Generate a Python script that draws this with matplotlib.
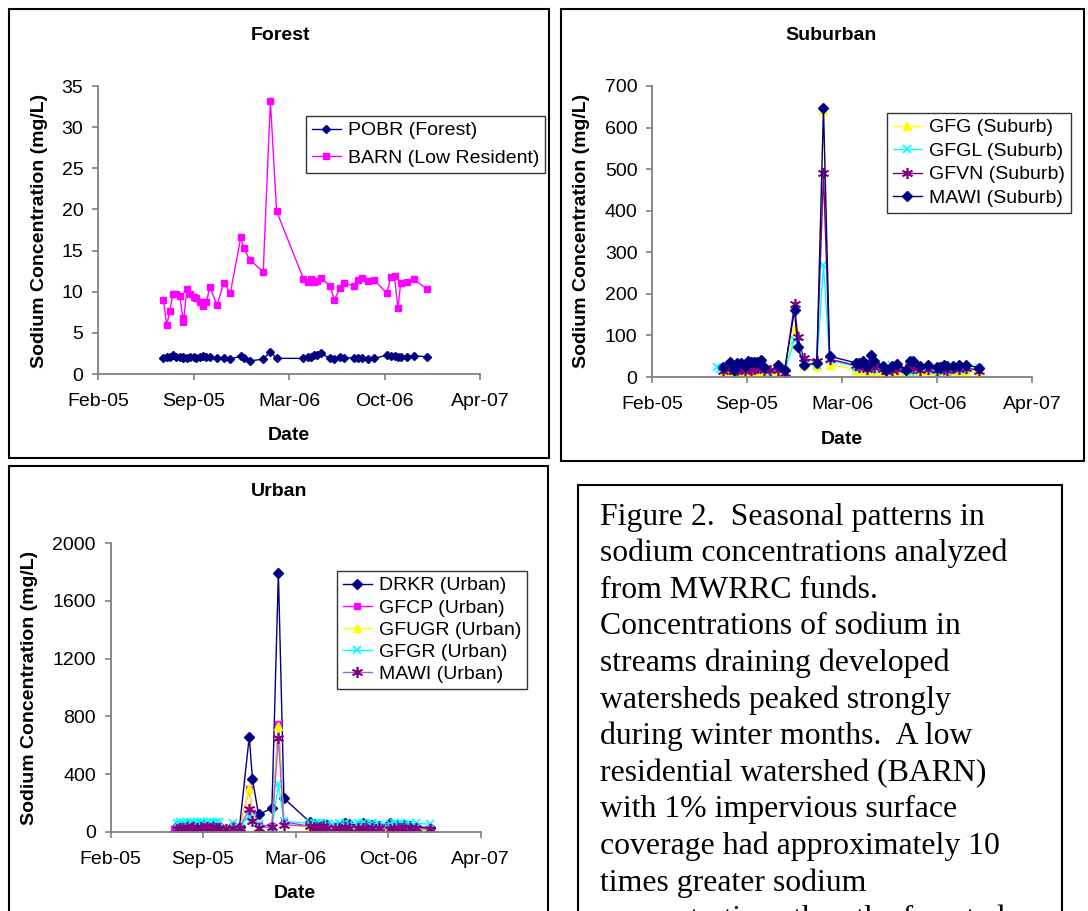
import matplotlib
matplotlib.use("Agg")
import matplotlib.pyplot as plt
import numpy as np
import pandas as pd
from matplotlib.patches import Rectangle

plt.rcParams['font.family'] = ['Liberation Sans', 'DejaVu Sans']

# ---------------- data (dates as Excel serial day numbers) ----------------
forest_dates = [38537, 38544, 38550, 38557, 38564, 38571, 38578, 38579, 38586, 38593,
                38600, 38606, 38614, 38620, 38627, 38634, 38649, 38664, 38677, 38699,
                38705, 38718, 38746, 38761, 38774, 38830, 38839, 38846, 38853, 38859,
                38867, 38886, 38895, 38907, 38915, 38936, 38945, 38952, 38966, 38979,
                39005, 39013, 39021, 39028, 39034, 39048, 39061, 39090]
pobr = [2.0, 2.1, 2.1, 2.3, 2.1, 2.1, 2.0, 2.1, 2.0, 2.1,
        2.1, 1.9, 2.1, 2.2, 2.1, 2.1, 1.9, 2.0, 1.8, 2.2,
        1.9, 1.6, 1.8, 2.7, 1.9, 1.9, 2.1, 2.1, 2.3, 2.3,
        2.5, 1.9, 1.8, 2.1, 1.9, 2.0, 2.0, 2.0, 1.8, 1.9,
        2.3, 2.2, 2.2, 2.1, 2.1, 2.1, 2.2, 2.1]
barn = [9.0, 5.9, 7.6, 9.7, 9.7, 9.5, 6.8, 6.3, 10.3, 9.7,
        9.3, 9.2, 8.7, 8.3, 8.7, 10.6, 8.4, 11.1, 9.8, 16.6,
        15.3, 13.9, 12.4, 33.2, 19.8, 11.6, 11.2, 11.5, 11.2, 11.3,
        11.7, 10.7, 9.0, 10.5, 11.0, 10.7, 11.4, 11.7, 11.3, 11.4,
        9.8, 11.8, 11.9, 8.0, 11.0, 11.2, 11.5, 10.3]

nan = np.nan
sub_dates = [38537, 38544, 38550, 38565, 38573, 38578, 38587, 38595, 38602, 38608,
             38615, 38622, 38629, 38635, 38649, 38665, 38679, 38700, 38707, 38719,
             38747, 38761, 38774, 38829, 38836, 38844, 38853, 38860, 38868, 38886,
             38893, 38906, 38915, 38935, 38943, 38950, 38965, 38980, 39000, 39007,
             39015, 39022, 39033, 39047, 39061, 39089]
gfg = [nan, nan, 12, 15, 10, 12, 14, 10, 15, 12,
       15, 12, 15, 14, 12, 15, 8, 117, 80, 28,
       26, 642, 30, 18, 16, 18, 15, 18, 15, 15,
       10, 14, 15, 12, 15, 16, 15, 14, 12, 15,
       12, 10, 15, 15, 15, 10]
gfgl = [25, 20, 22, 28, 20, 25, 22, 18, 25, 20,
        22, 25, 28, 20, 7, 22, 12, 89, 82, 32,
        30, 269, 41, 25, 22, 20, 22, 18, 20, 25,
        15, 28, 25, 15, 12, 15, 20, 18, 7, 18,
        15, 12, 20, 18, 20, 22]
gfvn = [nan, nan, 15, 20, 15, 18, 20, 15, 22, 18,
        20, 22, 25, 18, 16, 18, 10, 175, 96, 45,
        38, 490, 43, 28, 25, 28, 20, 30, 25, 20,
        14, 18, 20, 20, 25, 22, 18, 20, 18, 22,
        20, 18, 22, 20, 22, 15]
mawi_sub = [nan, nan, 25, 35, 18, 33, 33, 27, 39, 37,
            35, 37, 42, 23, nan, 29, 17, 160, 71, 29,
            33, 648, 50, 34, 33, 39, 27, 52, 39, 27,
            18, 27, 31, 18, 39, 39, 27, 28, 25, 25,
            29, 27, 27, 30, 30, 22]

urb_dates = [38537, 38544, 38550, 38557, 38565, 38573, 38578, 38587, 38595, 38602,
             38608, 38615, 38622, 38629, 38635, 38649, 38665, 38679, 38700, 38707,
             38720, 38749, 38763, 38775, 38831, 38839, 38846, 38853, 38860, 38868,
             38886, 38895, 38907, 38915, 38936, 38945, 38952, 38966, 38980, 39005,
             39013, 39021, 39028, 39034, 39048, 39061, 39090]
drkr = [nan, 40, 45, 40, 50, 45, 40, 45, 50, 45,
        40, 50, 45, 55, 40, 2, 40, 35, 660, 365,
        122, 164, 1790, 233, 69, 55, 50, 45, 55, 50,
        30, 35, 60, 55, 40, 65, 50, 45, 40, 60,
        50, 45, 40, 45, 40, 35, 30]
gfcp = [21, 25, 30, 25, 35, 30, 35, 30, 35, 30,
        35, 30, 35, 30, 25, 15, 40, 20, 300, 130,
        50, 40, 750, 70, 40, 35, 30, 35, 40, 35,
        25, 30, 40, 30, 25, 30, 25, 30, 25, 10,
        30, 25, 30, 25, 30, 25, 20]
gfugr = [nan, 15, 10, 15, 12, 15, 10, 15, 12, 15,
         10, 15, 12, 15, 10, 20, 25, 10, 305, 106,
         40, 30, 734, 60, 25, 20, 22, 18, 20, 25,
         15, 20, 22, 18, 15, 20, 15, 18, 12, 10,
         15, 12, 15, 12, 15, 10, 5]
gfgr = [nan, 65, 70, 65, 70, 68, 65, 70, 68, 65,
        70, 68, 65, 70, 70, 5, 65, 30, 110, 100,
        55, 25, 330, 75, 60, 65, 55, 60, 62, 58,
        55, 60, 62, 58, 60, 65, 55, 60, 58, 55,
        60, 58, 60, 55, 58, 60, 55]
mawi_urb = [nan, 20, 25, 30, 35, 30, 35, 30, 35, 30,
            35, 30, 35, 30, 25, 20, 30, 25, 160, 76,
            30, 35, 649, 50, 40, 35, 30, 35, 40, 30,
            25, 30, 35, 30, 25, 30, 28, 30, 25, 20,
            30, 25, 30, 25, 28, 25, 20]

tick_serials = [38400, 38600, 38800, 39000, 39200]

caption_lines = [
    "Figure 2.  Seasonal patterns in",
    "sodium concentrations analyzed",
    "from MWRRC funds.",
    "Concentrations of sodium in",
    "streams draining developed",
    "watersheds peaked strongly",
    "during winter months.  A low",
    "residential watershed (BARN)",
    "with 1% impervious surface",
    "coverage had approximately 10",
    "times greater sodium",
    "concentrations than the forested",
]

# ---------------- helpers ----------------
def to_dt(serials):
    return pd.to_datetime(np.asarray(serials, dtype=float), unit='D', origin='1899-12-30')

W, H = 1088, 911
fig = plt.figure(figsize=(W / 100, H / 100), dpi=100)
fig.patch.set_facecolor('white')

def px_axes(l, t, r, b):
    return fig.add_axes([l / W, 1 - b / H, (r - l) / W, (b - t) / H])

def fx(x):
    return x / W

def fy(y):
    return 1 - y / H

def panel_box(l, t, r, b):
    fig.patches.append(Rectangle((fx(l), fy(b)), (r - l) / W, (b - t) / H,
                                 transform=fig.transFigure, fill=False,
                                 edgecolor='black', linewidth=1.5))

def style_axes(ax, yticks):
    for s in ['top', 'right']:
        ax.spines[s].set_visible(False)
    for s in ['left', 'bottom']:
        ax.spines[s].set_color('#808080')
        ax.spines[s].set_linewidth(1.3)
    xt = to_dt(tick_serials)
    ax.set_xlim(xt[0], xt[-1])
    ax.set_xticks(xt)
    ax.set_xticklabels([d.strftime('%b-%y') for d in xt])
    ax.set_yticks(yticks)
    ax.set_ylim(yticks[0], yticks[-1])
    ax.tick_params(axis='both', direction='out', length=4.5, width=1.2,
                   color='#808080', labelsize=14, labelcolor='black')
    ax.tick_params(axis='x', pad=9)
    ax.tick_params(axis='y', pad=6)
    ax.patch.set_alpha(0)

def legend(ax, l, t, spacing):
    lg = ax.legend(loc='upper left', bbox_to_anchor=(fx(l), fy(t)),
                   bbox_transform=fig.transFigure, fontsize=14, frameon=True,
                   fancybox=False, edgecolor='black', borderaxespad=0,
                   handlelength=1.5, handletextpad=0.35, labelspacing=spacing,
                   borderpad=0.3)
    lg.get_frame().set_linewidth(1.0)
    return lg

NAVY = '#000080'
MAG = '#FF00FF'
YEL = '#FFFF00'
CYA = '#00FFFF'
PUR = '#800080'
STAR = (6, 2, 0)

# ---------------- Forest ----------------
panel_box(9, 9, 549, 458)
ax1 = px_axes(98, 86, 480, 374)
fd = to_dt(forest_dates)
ax1.plot(fd, pobr, color=NAVY, lw=1, marker='D', ms=4.5, label='POBR (Forest)')
ax1.plot(fd, barn, color=MAG, lw=1, marker='s', ms=5, label='BARN (Low Resident)')
style_axes(ax1, list(range(0, 36, 5)))
legend(ax1, 306, 116, 0.52)
fig.text(fx(280), fy(35), 'Forest', ha='center', va='center', fontsize=14, fontweight='bold')
fig.text(fx(289), fy(436), 'Date', ha='center', va='center', fontsize=14, fontweight='bold')
fig.text(fx(40), fy(231), 'Sodium Concentration (mg/L)', ha='center', va='center',
         rotation=90, fontsize=14, fontweight='bold')

# ---------------- Suburban ----------------
panel_box(561, 9, 1084, 461)
ax2 = px_axes(652, 86, 1032, 377)
sd = to_dt(sub_dates)
ax2.plot(sd, gfg, color=YEL, lw=1, marker='^', ms=6, label='GFG (Suburb)')
ax2.plot(sd, gfgl, color=CYA, lw=1, marker='x', ms=6, mew=1.2, label='GFGL (Suburb)')
ax2.plot(sd, gfvn, color=PUR, lw=1, marker=STAR, ms=8, mew=1.2, label='GFVN (Suburb)')
ax2.plot(sd, mawi_sub, color=NAVY, lw=1, marker='D', ms=5, label='MAWI (Suburb)')
style_axes(ax2, list(range(0, 701, 100)))
legend(ax2, 887, 113, 0.3)
fig.text(fx(831), fy(35), 'Suburban', ha='center', va='center', fontsize=14, fontweight='bold')
fig.text(fx(842), fy(439), 'Date', ha='center', va='center', fontsize=14, fontweight='bold')
fig.text(fx(582), fy(231), 'Sodium Concentration (mg/L)', ha='center', va='center',
         rotation=90, fontsize=14, fontweight='bold')

# ---------------- Urban ----------------
panel_box(9, 466, 548, 915)
ax3 = px_axes(110.5, 543, 480.5, 832)
ud = to_dt(urb_dates)
ax3.plot(ud, drkr, color=NAVY, lw=1, marker='D', ms=5, label='DRKR (Urban)')
ax3.plot(ud, gfcp, color=MAG, lw=1, marker='s', ms=5, label='GFCP (Urban)')
ax3.plot(ud, gfugr, color=YEL, lw=1, marker='^', ms=6, label='GFUGR (Urban)')
ax3.plot(ud, gfgr, color=CYA, lw=1, marker='x', ms=6, mew=1.2, label='GFGR (Urban)')
ax3.plot(ud, mawi_urb, color='#9966CC', lw=1, marker=STAR, ms=8, mew=1.2,
         mec=PUR, mfc=PUR, label='MAWI (Urban)')
style_axes(ax3, list(range(0, 2001, 400)))
legend(ax3, 337, 571, 0.23)
fig.text(fx(279), fy(492), 'Urban', ha='center', va='center', fontsize=14, fontweight='bold')
fig.text(fx(295), fy(894), 'Date', ha='center', va='center', fontsize=14, fontweight='bold')
fig.text(fx(30), fy(688), 'Sodium Concentration (mg/L)', ha='center', va='center',
         rotation=90, fontsize=14, fontweight='bold')

# ---------------- caption box ----------------
panel_box(578, 485, 1062, 930)
for i, line in enumerate(caption_lines):
    fig.text(fx(600), fy(517 + i * 36.6), line, ha='left', va='center',
             fontsize=22.9, family=['Liberation Serif', 'DejaVu Serif'])

fig.savefig('out.png', dpi=100)
